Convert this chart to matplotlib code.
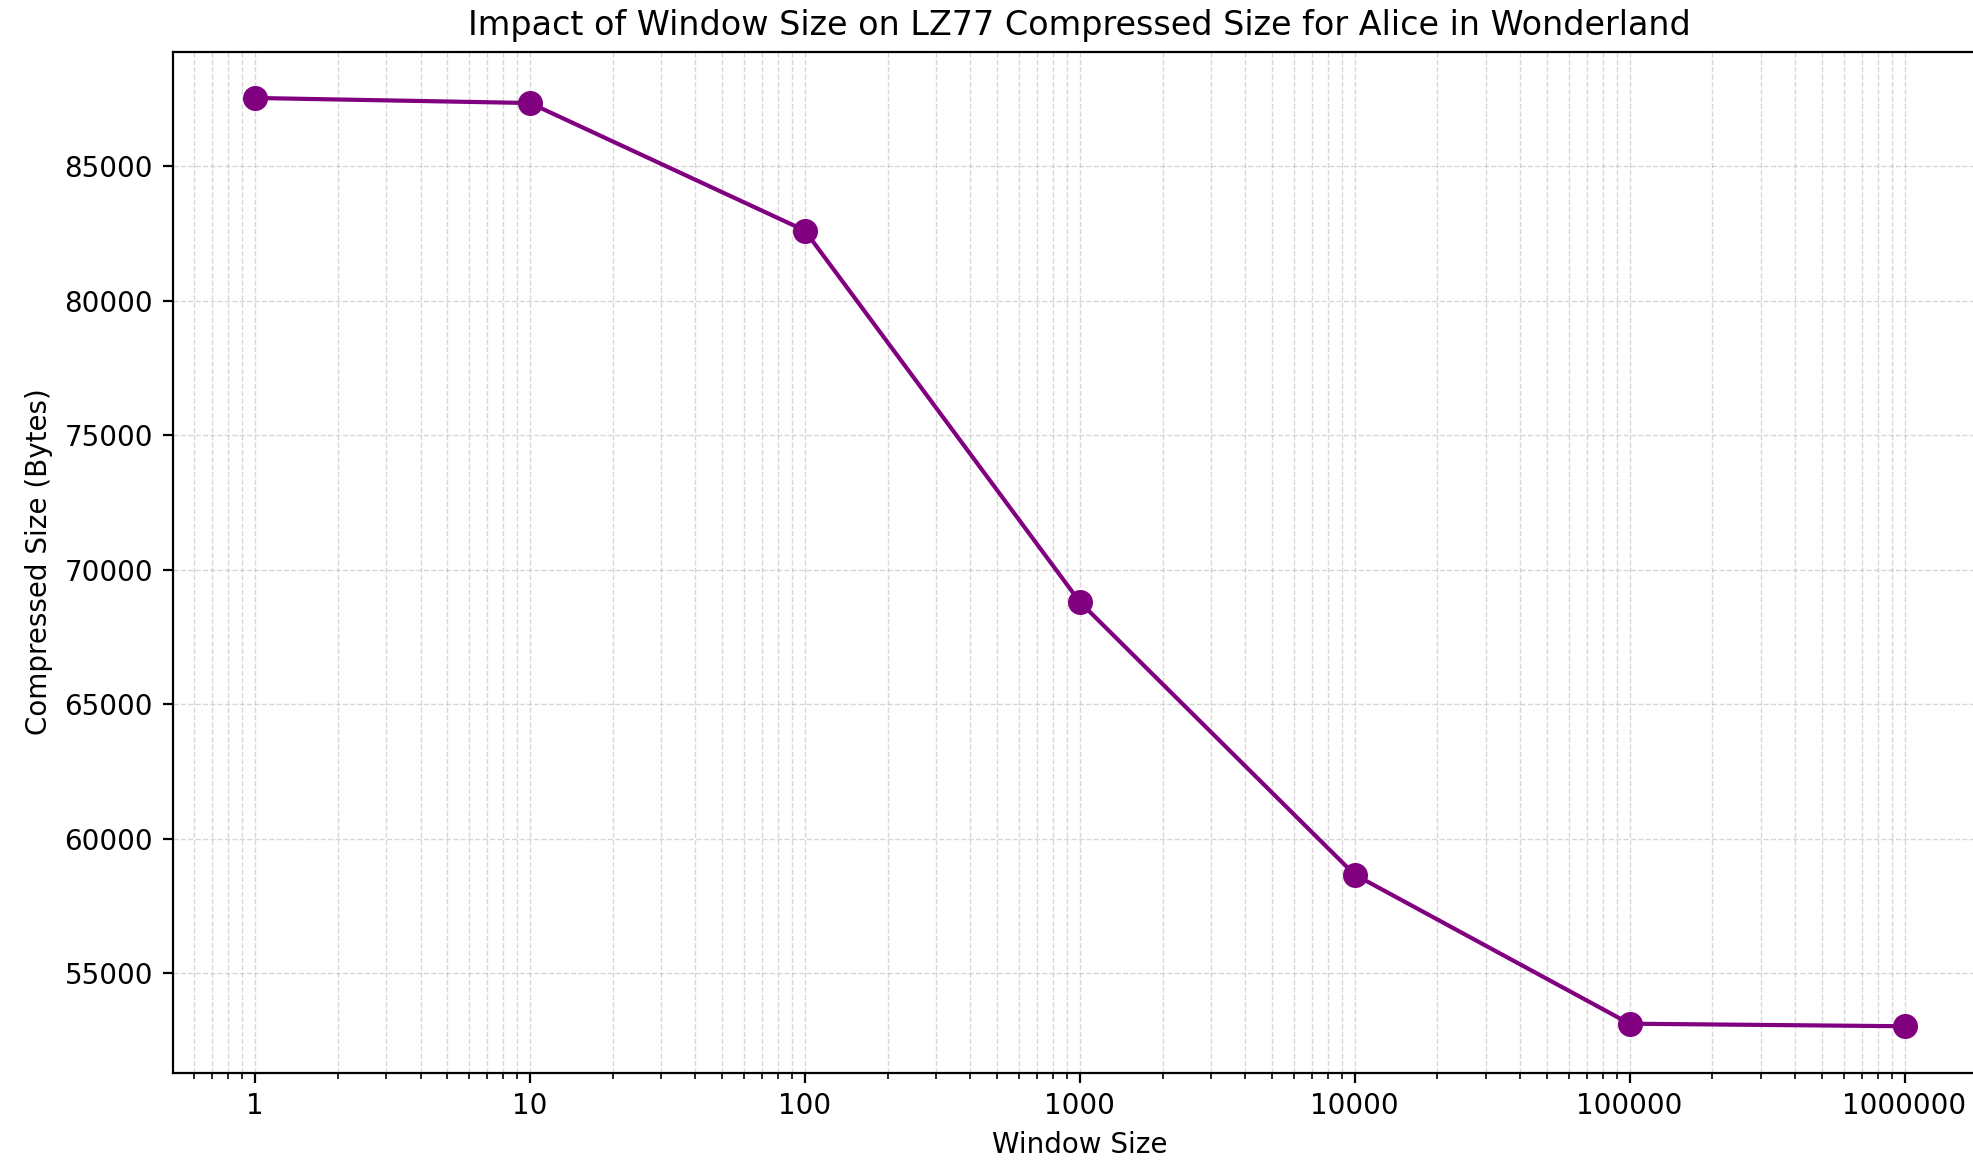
import matplotlib
matplotlib.use("Agg")
import matplotlib.pyplot as plt
from matplotlib.ticker import FixedLocator, FuncFormatter, LogLocator, NullFormatter

# LZ77 window sizes and resulting compressed sizes (bytes)
window_sizes = [1, 10, 100, 1000, 10000, 100000, 1000000]
compressed_sizes = [87535, 87347, 82606, 68803, 58662, 53122, 53028]

title = "Impact of Window Size on LZ77 Compressed Size for Alice in Wonderland"
x_label = "Window Size"
y_label = "Compressed Size (Bytes)"

fig = plt.figure(figsize=(9.87, 5.805), dpi=200)
ax = fig.add_axes([0.0874, 0.0761, 0.9192, 0.8795])

ax.plot(window_sizes, compressed_sizes, marker="o", color="purple",
        linewidth=1.5, markersize=8)
ax.set_xscale("log")

# Major ticks only at the measured window sizes, plain integer labels
ax.xaxis.set_major_locator(FixedLocator(window_sizes))
ax.xaxis.set_major_formatter(FuncFormatter(lambda v, p: f"{int(round(v))}"))
ax.xaxis.set_minor_locator(LogLocator(base=10, subs=range(2, 10)))
ax.xaxis.set_minor_formatter(NullFormatter())

ax.grid(True, which="both", linestyle="--", linewidth=0.5, color="#b0b0b0", alpha=0.5)

ax.set_title(title, fontsize=12)
ax.set_xlabel(x_label, fontsize=10)
ax.set_ylabel(y_label, fontsize=10)

fig.savefig("out.png", dpi=200)
